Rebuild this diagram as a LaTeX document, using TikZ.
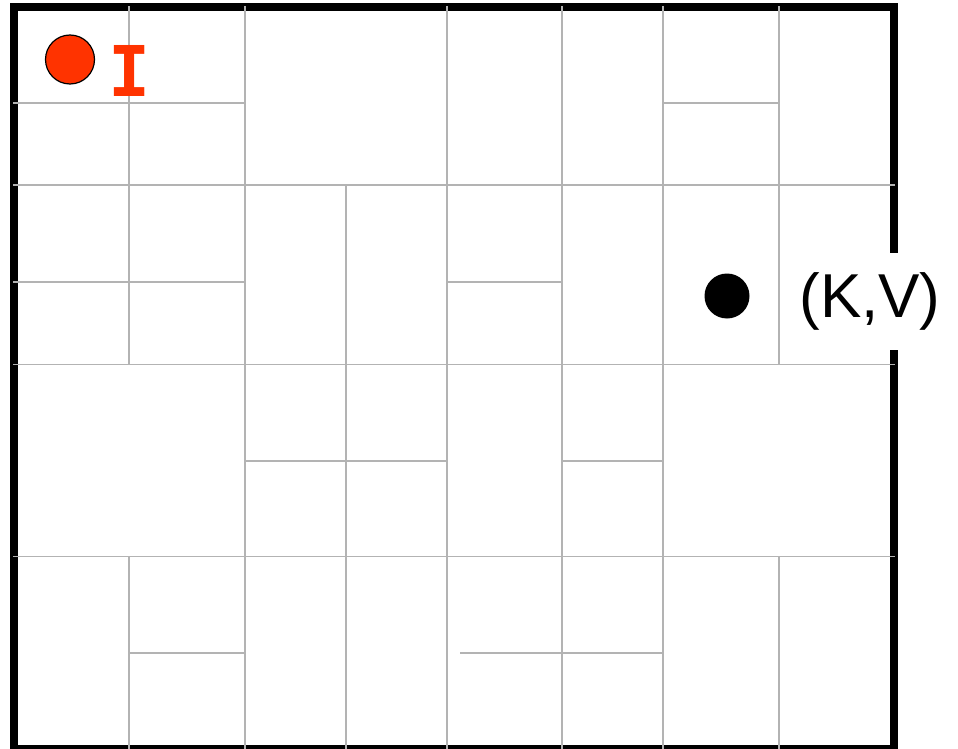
\documentclass[tikz,border=0pt]{standalone}
\usepackage{fontspec}
\setmainfont{Liberation Sans}
\newfontfamily\markfont{DejaVu Sans Mono}
\definecolor{wall}{HTML}{000000}
\definecolor{cellline}{HTML}{B3B3B3}
\definecolor{agent}{HTML}{FF3300}

\begin{document}
\begin{tikzpicture}[x=1pt,y=-1pt]
  \useasboundingbox (0,0) rectangle (958,749);
  % Outer wall of the map.
  \draw[wall,line width=8pt] (13.5,7) rectangle (894,749);

  % Full row borders.
  \foreach \y in {185,364.5,556.5} {
    \draw[cellline,line width=1.8pt] (13,\y) -- (895,\y);
  }
  % Vertical cell borders: x/top/bottom.
  \foreach \x/\a/\b in {
    129/6/364.5, 129/556.5/749,
    245/6/749,
    346/185/749,
    447/6/749,
    562/6/749,
    663/6/749,
    779/6/364.5, 779/556.5/749
  } {
    \draw[cellline,line width=1.8pt] (\x,\a) -- (\x,\b);
  }
  % Partial splits inside the rows: y/left/right.
  \foreach \y/\l/\r in {
    103/13/245, 103/663/779,
    282/13/245, 282/447/562,
    461/245/447, 461/562/663,
    653/129/245, 653/460/663
  } {
    \draw[cellline,line width=1.8pt] (\l,\y) -- (\r,\y);
  }

  % Start point and goal point.
  \node[circle,fill=agent,draw=black,line width=1.2pt,minimum size=49pt,inner sep=0pt] (agent) at (70,59.5) {};
  \node[text=agent,font=\markfont\bfseries\fontsize{70}{70}\selectfont,inner sep=0pt] (agentlabel) at (130,71) {I};
  \node[circle,fill=black,minimum size=45pt,inner sep=0pt] (goal) at (727,296) {};
  \node[fill=white,minimum width=160pt,minimum height=97pt,inner sep=0pt,font=\fontsize{62}{62}\selectfont] (goallabel) at (870,301.5) {(K,V)};
\end{tikzpicture}
\end{document}
